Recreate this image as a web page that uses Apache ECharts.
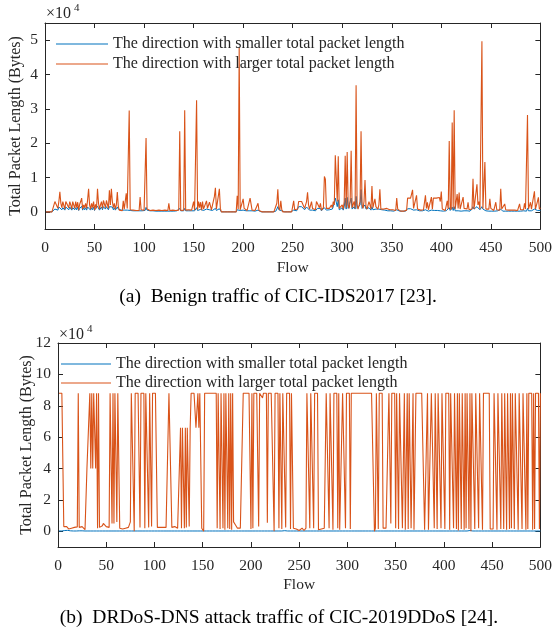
<!DOCTYPE html>
<html>
<head>
<meta charset="utf-8">
<script src="https://cdn.jsdelivr.net/npm/echarts@6/dist/echarts.min.js"></script>
<style>html,body{margin:0;padding:0;background:#fff;}#c{width:555px;height:633px;}</style>
</head>
<body>
<div id="c"></div>
<script>
// Values in units of 100 bytes (chart axis shows ×10^4 bytes)
const flowTicks = [0,50,100,150,200,250,300,350,400,450,500];
const benignTicks = [0,1,2,3,4,5];
const ddosTicks = [0,2,4,6,8,10,12];
const seriesNames = ['The direction with smaller total packet length','The direction with larger total packet length'];
const captionA = '(a)  Benign traffic of CIC-IDS2017 [23].';
const captionB = '(b)  DRDoS-DNS attack traffic of CIC-2019DDoS [24].';

const benignSmall = [
0,0,0,0,0,0,0,0,0,8,
12,10,5,14,15,10,6,12,14,5,
14,15,12,6,14,10,5,12,13,6,
12,6,14,4,10,14,16,5,12,6,
12,5,14,16,10,5,12,6,14,4,
10,5,16,12,5,10,14,6,15,14,
8,15,14,6,15,12,16,14,6,12,
5,10,14,8,4,5,5,3,8,5,
6,10,5,4,8,4,3,4,3,3,
3,3,3,4,3,6,4,3,3,3,
4,13,5,4,3,3,4,3,3,3,
3,2,3,3,2,3,3,2,3,3,
2,3,3,2,6,3,2,3,3,2,
3,2,3,3,2,10,3,2,3,3,
10,3,2,3,3,2,3,3,4,8,
3,5,12,4,8,5,7,3,8,4,
3,5,8,4,3,6,7,3,4,5,
8,10,4,3,3,9,4,0,0,0,
0,0,0,0,0,0,0,0,0,0,
0,0,0,6,3,10,4,3,2,5,
4,3,3,2,3,3,6,5,3,2,
3,2,3,3,5,2,0,0,0,0,
0,0,0,0,0,0,0,0,0,0,
0,0,2,8,15,6,3,8,3,0,
0,0,0,0,0,0,0,0,0,2,
5,4,3,3,5,15,17,16,15,12,
15,6,8,14,16,10,5,6,8,5,
3,4,3,8,10,12,6,10,3,4,
6,12,10,5,4,8,6,4,10,8,
15,10,40,44,15,35,6,5,8,12,
5,15,40,8,42,10,6,15,40,8,
10,15,8,45,10,6,8,20,65,10,
6,15,20,8,5,6,12,10,5,15,
6,5,10,8,6,5,8,12,5,6,
4,3,5,3,4,3,5,3,3,4,
3,2,3,2,6,3,2,2,2,2,
2,2,2,2,3,9,9,9,9,9,
10,5,3,2,6,3,2,3,2,2,
3,3,2,6,3,5,2,3,2,5,
3,4,4,4,4,4,4,4,3,6,
3,2,3,2,3,4,3,12,4,3,
14,4,15,3,2,6,3,6,3,2,
3,5,3,2,2,3,4,2,2,2,
8,15,8,5,8,15,10,12,6,6,
15,8,4,10,3,2,3,2,5,3,
2,2,2,2,4,2,3,2,2,8,
3,2,2,4,2,2,2,2,2,2,
2,2,2,2,2,2,2,2,4,2,
2,2,3,4,3,2,10,3,2,4,
3,4,2,8,3,4,4,5,3,4
];

const benignLarge = [
0,0,0,0,0,0,0,0,2,30,
32,28,10,30,58,25,12,30,28,8,
30,31,29,12,30,20,8,30,25,10,
30,12,28,5,22,30,40,8,20,12,
25,10,35,67,20,8,25,12,30,5,
22,10,67,25,8,20,30,10,33,30,
12,33,28,10,63,20,67,30,12,25,
8,20,58,15,5,8,10,3,32,8,
12,54,10,6,295,6,5,6,5,4,
5,4,5,6,4,43,6,5,4,5,
6,215,8,6,5,4,6,5,5,4,
5,4,5,6,5,4,5,4,5,4,
5,4,5,4,25,4,5,4,5,4,
5,4,5,4,5,235,4,5,4,5,
296,5,4,5,6,5,4,5,8,30,
5,8,325,6,30,12,28,5,30,8,
6,12,32,10,5,28,26,6,8,10,
45,70,8,5,6,67,10,0,0,0,
0,0,0,0,0,0,0,0,0,0,
0,0,0,47,8,478,6,5,4,38,
10,5,6,4,8,6,40,36,5,4,
5,4,5,6,25,4,0,0,0,0,
0,0,0,0,0,0,0,0,0,0,
0,0,2,25,66,12,5,32,6,0,
0,0,0,0,0,0,0,0,0,2,
32,6,4,5,8,30,31,28,30,25,
30,10,15,30,57,20,8,12,30,10,
5,8,6,30,28,30,12,25,5,8,
12,103,95,10,8,15,10,6,20,12,
30,20,165,170,30,162,10,8,12,20,
8,30,163,12,174,20,10,30,178,12,
15,30,10,369,20,8,10,30,235,20,
10,30,93,15,8,12,30,20,8,75,
12,8,38,15,10,8,20,66,8,12,
10,8,12,6,10,8,12,6,5,8,
6,4,5,4,40,8,5,3,2,2,
2,2,2,3,5,40,42,40,40,41,
64,10,5,5,48,8,6,5,5,4,
5,6,5,48,10,28,6,8,5,43,
8,40,40,38,40,40,38,42,30,59,
8,5,6,4,5,32,8,206,12,6,
260,10,296,8,6,52,10,56,8,6,
8,43,10,6,5,8,28,6,5,4,
8,96,8,5,8,80,20,30,8,6,
497,10,8,145,8,5,6,8,38,10,
6,5,4,5,28,6,8,4,5,67,
8,6,5,23,6,5,4,5,3,4,
5,4,3,5,4,5,4,5,23,6,
5,4,6,25,8,6,282,8,6,28,
8,10,6,60,8,10,30,42,8,12
];

const ddosSmall = [
2,2,2,2,2,3,5,8,12,6,
3,2,3,2,3,2,2,3,2,3,
2,3,2,2,3,2,3,2,2,3,
2,2,3,2,2,3,2,2,3,2,
2,3,2,2,3,2,2,3,2,2,
3,2,2,3,2,2,3,2,2,3,
2,2,3,2,2,3,2,2,3,2,
2,3,2,2,3,2,2,3,2,2,
3,2,2,3,2,2,3,2,2,3,
2,2,3,2,2,3,2,2,3,2,
2,3,2,2,3,2,2,3,2,2,
3,2,2,3,2,2,3,2,2,3,
2,2,3,2,2,3,2,2,3,2,
2,3,2,2,3,2,2,3,2,2,
3,2,2,3,2,2,3,2,2,3,
2,2,3,2,2,3,2,2,3,2,
2,3,2,2,3,2,2,3,2,2,
3,2,2,3,2,2,3,2,2,3,
2,2,3,2,2,3,2,2,3,2,
2,3,2,2,3,2,2,3,2,2,
3,2,2,3,2,2,3,2,2,3,
2,2,3,2,2,3,2,2,3,2,
2,3,2,2,3,2,2,3,2,2,
3,2,5,10,4,2,3,2,2,3,
2,2,3,2,2,3,2,2,3,2,
2,3,2,2,3,2,2,3,2,2,
3,2,2,3,2,2,3,2,2,3,
2,2,3,2,2,3,2,2,3,2,
2,3,2,2,3,2,2,3,2,2,
3,2,2,3,2,2,3,2,2,3,
2,2,3,2,2,3,2,2,3,2,
2,3,2,2,3,2,2,3,2,2,
3,2,2,3,2,2,3,2,2,3,
2,2,3,2,2,3,2,2,3,2,
2,3,2,2,3,2,2,3,2,2,
3,2,2,3,2,2,3,2,2,3,
2,2,3,2,2,3,2,2,3,2,
2,3,2,2,3,2,2,3,2,2,
3,2,2,3,2,2,3,2,2,3,
2,2,3,2,2,3,2,2,3,2,
2,3,2,2,3,2,2,3,2,2,
3,2,2,3,2,2,3,2,2,3,
2,2,3,2,4,8,5,2,3,2,
2,3,2,2,3,2,2,3,2,2,
3,2,2,3,2,2,3,2,2,3,
2,2,3,2,2,3,2,2,3,2,
2,3,2,2,3,2,2,3,2,2,
3,2,2,3,2,2,3,2,2,3,
2,2,3,2,2,3,2,2,3,2,
2,3,2,2,3,2,2,3,2,2
];

const ddosLarge = [
880,880,880,880,880,30,20,25,30,22,
15,25,10,20,25,28,25,25,30,28,
880,25,28,30,30,25,20,10,5,400,
400,400,880,400,880,400,880,880,400,880,
20,880,25,20,30,35,50,60,45,30,
25,30,25,880,880,50,880,50,880,880,
60,880,880,20,25,20,15,20,25,20,
20,20,25,30,60,880,880,880,0,880,
880,880,880,880,25,880,880,880,880,20,
880,880,880,25,880,880,30,880,880,880,
880,880,25,30,25,25,20,30,25,25,
20,25,20,20,880,880,880,25,20,25,
30,20,25,20,25,30,660,20,660,660,
20,660,25,660,660,30,660,880,880,880,
880,880,660,660,880,660,880,880,20,10,
0,880,880,880,880,880,880,880,880,880,
880,880,880,880,20,880,880,15,880,880,
20,880,10,880,880,20,880,15,880,10,
880,60,50,40,30,20,15,15,20,20,
15,880,880,880,880,880,880,880,880,15,
880,20,880,880,880,880,880,30,880,880,
880,850,880,880,880,880,55,880,880,880,
880,880,880,0,880,880,880,880,20,880,
880,15,880,880,880,25,880,880,880,880,
15,880,880,20,15,10,15,20,15,5,
10,15,20,15,5,10,20,880,880,880,
20,880,880,880,20,880,880,880,880,10,
15,20,15,10,5,20,15,880,880,880,
20,880,880,880,10,880,880,880,880,20,
880,10,20,15,880,880,880,20,880,880,
880,880,15,880,880,880,880,880,880,880,
880,880,880,880,880,880,880,880,880,880,
880,880,880,880,880,880,880,0,20,880,
880,15,880,880,880,880,20,10,15,20,
10,15,880,880,50,880,880,880,880,20,
880,880,15,880,880,880,20,15,880,10,
20,880,15,880,880,20,15,880,10,15,
880,880,880,880,880,880,880,880,880,10,
20,15,880,10,15,20,880,880,880,20,
880,880,15,880,880,880,20,880,880,880,
15,880,880,880,880,10,880,880,880,20,
880,880,15,880,5,880,880,15,880,880,
10,880,20,880,880,15,880,0,880,880,
880,15,880,880,880,20,880,880,880,10,
880,880,880,880,880,880,880,15,10,20,
15,880,880,880,10,880,880,880,15,880,
880,15,880,880,10,880,880,15,880,20,
880,880,15,880,880,880,10,880,880,880,
15,880,880,880,10,880,15,880,880,880,
880,10,880,15,880,880,880,880,15,880
];

const UNIT = 100; // stored values are hundreds of bytes
const toXY = arr => arr.map((v, i) => [i + 1, v * UNIT]);

const FONT = 'Liberation Serif';
const TXT = '#262626';
const BLUE = '#0072BD';
const ORANGE = '#D95319';

function xAx(gi, top, showLabel, gap) {
  return {
    type: 'value', gridIndex: gi, position: top ? 'top' : 'bottom',
    min: 0, max: 500, interval: 50,
    axisLine: { show: true, onZero: false, lineStyle: { color: TXT, width: 1 } },
    axisTick: { show: true, inside: true, length: 5, lineStyle: { color: TXT } },
    axisLabel: { show: showLabel, color: TXT, fontFamily: FONT, fontSize: 15.5, margin: 11,
      customValues: flowTicks, formatter: v => String(v) },
    splitLine: { show: false },
    name: showLabel ? 'Flow' : '', nameLocation: 'middle', nameGap: gap, nameMoveOverlap: false,
    nameTextStyle: { color: TXT, fontFamily: FONT, fontSize: 15.5 }
  };
}
function yAx(gi, right, showLabel, min, max, ticks, gap) {
  const vals = ticks.map(t => t * 10000);
  return {
    type: 'value', gridIndex: gi, position: right ? 'right' : 'left',
    min: min, max: max,
    axisLine: { show: true, onZero: false, lineStyle: { color: TXT, width: 1 } },
    axisTick: { show: true, inside: true, length: 5, customValues: vals, lineStyle: { color: TXT } },
    axisLabel: { show: showLabel, color: TXT, fontFamily: FONT, fontSize: 15.5, margin: 7,
      customValues: vals, formatter: v => String(Math.round(v / 10000)) },
    splitLine: { show: false },
    name: showLabel ? 'Total Packet Length (Bytes)' : '', nameLocation: 'middle', nameGap: gap,
    nameRotate: 90, nameMoveOverlap: false,
    nameTextStyle: { color: TXT, fontFamily: FONT, fontSize: 16 }
  };
}

const chart = echarts.init(document.getElementById('c'), null, { renderer: 'canvas' });
const legendBase = {
  orient: 'vertical', icon: 'path://M0,0 L52,0 L52,1.2 L0,1.2 Z',
  itemWidth: 52, itemHeight: 1.5, padding: [2, 4, 2, 0],
  textStyle: { color: TXT, fontFamily: FONT, fontSize: 16 },
  data: seriesNames, selectedMode: false
};
chart.setOption({
  animation: false,
  backgroundColor: '#fff',
  grid: [
    { left: 45, top: 23, width: 497, height: 206, containLabel: false },
    { left: 58, top: 343, width: 488, height: 204, containLabel: false }
  ],
  legend: [
    Object.assign({}, legendBase, { left: 56, top: 34, itemGap: 4 }),
    Object.assign({}, legendBase, { left: 61, top: 354, itemGap: 3, itemWidth: 50 })
  ],
  xAxis: [xAx(0, false, true, 31), xAx(0, true, false, 0), xAx(1, false, true, 30), xAx(1, true, false, 0)],
  yAxis: [
    yAx(0, false, true, -5000, 55000, benignTicks, 21),
    yAx(0, true, false, -5000, 55000, benignTicks, 21),
    yAx(1, false, true, -10000, 120000, ddosTicks, 23),
    yAx(1, true, false, -10000, 120000, ddosTicks, 23)
  ],
  series: [
    { name: seriesNames[0], type: 'line', xAxisIndex: 0, yAxisIndex: 0, data: toXY(benignSmall),
      symbol: 'none', lineStyle: { color: BLUE, width: 1 }, itemStyle: { color: BLUE } },
    { name: seriesNames[1], type: 'line', xAxisIndex: 0, yAxisIndex: 0, data: toXY(benignLarge),
      symbol: 'none', lineStyle: { color: ORANGE, width: 1.1 }, itemStyle: { color: ORANGE } },
    { name: seriesNames[0], type: 'line', xAxisIndex: 2, yAxisIndex: 2, data: toXY(ddosSmall),
      symbol: 'none', lineStyle: { color: BLUE, width: 1 }, itemStyle: { color: BLUE } },
    { name: seriesNames[1], type: 'line', xAxisIndex: 2, yAxisIndex: 2, data: toXY(ddosLarge),
      symbol: 'none', lineStyle: { color: ORANGE, width: 1.1 }, itemStyle: { color: ORANGE } }
  ],
  graphic: [
    { type: 'text', left: 46, top: 6, style: { text: '×10', fill: TXT, font: '16px "Liberation Serif"' } },
    { type: 'text', left: 74, top: 3, style: { text: '4', fill: TXT, font: '11px "Liberation Serif"' } },
    { type: 'text', left: 59, top: 327, style: { text: '×10', fill: TXT, font: '16px "Liberation Serif"' } },
    { type: 'text', left: 87, top: 324, style: { text: '4', fill: TXT, font: '11px "Liberation Serif"' } },
    { type: 'text', x: 278, y: 297, style: { text: captionA, fill: '#000', font: '19.5px "Liberation Serif"', align: 'center', verticalAlign: 'middle' } },
    { type: 'text', x: 279, y: 618, style: { text: captionB, fill: '#000', font: '19.5px "Liberation Serif"', align: 'center', verticalAlign: 'middle' } }
  ]
});
</script>
</body>
</html>
